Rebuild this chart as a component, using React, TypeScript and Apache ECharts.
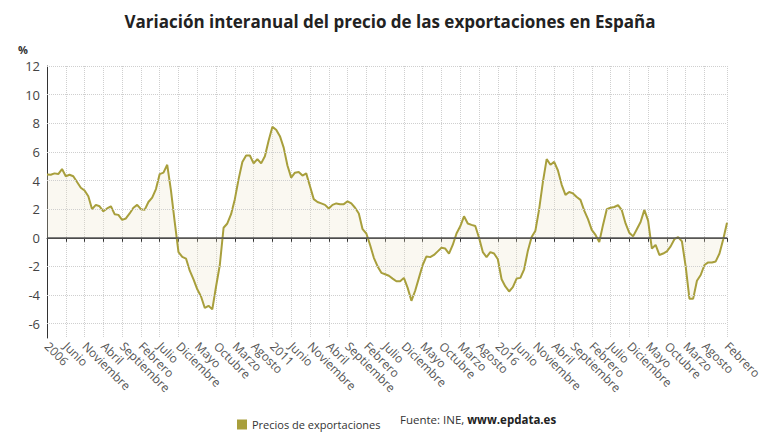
import React, { useEffect, useRef } from "react";
import * as echarts from "echarts";

const monthNames = ["Enero", "Febrero", "Marzo", "Abril", "Mayo", "Junio", "Julio", "Agosto", "Septiembre", "Octubre", "Noviembre", "Diciembre"];
const startYear = 2006;

const v2006 = [4.42, 4.4, 4.5, 4.45, 4.8, 4.3, 4.4, 4.3, 3.9, 3.5, 3.3, 2.9];
const v2007 = [2.0, 2.3, 2.2, 1.85, 2.05, 2.2, 1.65, 1.6, 1.25, 1.35, 1.7, 2.1];
const v2008 = [2.3, 2.0, 1.95, 2.5, 2.8, 3.4, 4.45, 4.55, 5.1, 3.3, 1.1, -1.0];
const v2009 = [-1.33, -1.45, -2.3, -2.9, -3.6, -4.1, -4.9, -4.75, -5.0, -3.4, -1.9, 0.7];
const v2010 = [1.0, 1.65, 2.7, 4.1, 5.3, 5.75, 5.75, 5.2, 5.5, 5.2, 5.7, 6.8];
const v2011 = [7.75, 7.55, 7.1, 6.3, 5.05, 4.2, 4.55, 4.6, 4.35, 4.5, 3.6, 2.7];
const v2012 = [2.5, 2.4, 2.3, 2.05, 2.3, 2.4, 2.35, 2.35, 2.55, 2.4, 2.1, 1.7];
const v2013 = [0.6, 0.3, -0.5, -1.4, -2.0, -2.45, -2.55, -2.65, -2.85, -3.04, -3.04, -2.8];
const v2014 = [-3.5, -4.4, -3.7, -2.8, -1.9, -1.3, -1.35, -1.2, -0.95, -0.7, -0.75, -1.1];
const v2015 = [-0.5, 0.3, 0.8, 1.5, 1.0, 0.9, 0.82, 0.0, -1.0, -1.35, -1.0, -1.1];
const v2016 = [-1.5, -2.9, -3.4, -3.75, -3.45, -2.85, -2.8, -2.2, -0.9, 0.05, 0.5, 2.0];
const v2017 = [3.9, 5.5, 5.1, 5.3, 4.7, 3.7, 3.0, 3.2, 3.1, 2.85, 2.65, 1.9];
const v2018 = [1.3, 0.55, 0.2, -0.3, 0.9, 2.0, 2.1, 2.15, 2.28, 1.93, 1.0, 0.35];
const v2019 = [0.1, 0.6, 1.1, 1.95, 1.2, -0.75, -0.5, -1.2, -1.1, -0.95, -0.6, -0.1];
const v2020 = [0.05, -0.25, -2.0, -4.25, -4.25, -3.0, -2.6, -1.9, -1.72, -1.72, -1.65, -1.1];
const v2021 = [-0.1, 1.05];

const values = [
  ...v2006, ...v2007, ...v2008, ...v2009, ...v2010, ...v2011, ...v2012, ...v2013,
  ...v2014, ...v2015, ...v2016, ...v2017, ...v2018, ...v2019, ...v2020, ...v2021,
];

const categories = values.map((_, i) => {
  const m = i % 12;
  const y = startYear + Math.floor(i / 12);
  return m === 0 ? String(y) : monthNames[m];
});

const yGridValues = [-6, -4, -2, 2, 4, 6, 8, 10, 12];

const lineColor = "#a89f3c";
const fontFamily = "'Open Sans', 'Noto Sans', sans-serif";

export default function App() {
  const ref = useRef<HTMLDivElement>(null);

  useEffect(() => {
    if (!ref.current) return;
    const chart = echarts.init(ref.current, undefined, { renderer: "svg" });
    const last = values.length - 1;
    const shown = (i: number) => (i % 5 === 0 && i <= last - 5) || i === last;

    chart.setOption({
      animation: false,
      backgroundColor: "#ffffff",
      textStyle: { fontFamily },
      title: {
        text: "Variación interanual del precio de las exportaciones en España",
        left: "center",
        top: 8,
        textStyle: { fontSize: 17, fontWeight: "bold", color: "#222", fontFamily },
      },
      grid: { left: 47, right: 53, top: 66, bottom: 102, containLabel: false },
      legend: {
        left: 232,
        top: 414,
        icon: "rect",
        itemWidth: 10,
        itemHeight: 10,
        itemGap: 6,
        textStyle: { fontSize: 11, color: "#333", fontFamily },
        data: ["Precios de exportaciones"],
      },
      graphic: [
        {
          type: "text",
          left: 18,
          top: 44,
          style: { text: "%", fontSize: 11, fontWeight: "bold", fill: "#333", fontFamily },
        },
        {
          type: "text",
          left: 400,
          top: 413,
          style: {
            text: "{a|Fuente: INE, }{b|www.epdata.es}",
            rich: {
              a: { fontSize: 11.5, fill: "#333", fontFamily },
              b: { fontSize: 11.5, fill: "#222", fontWeight: "bold", fontFamily },
            },
          },
        },
      ],
      xAxis: {
        type: "category",
        data: categories,
        boundaryGap: false,
        axisLine: { show: true, lineStyle: { color: "#333", width: 1 } },
        axisTick: { show: true, interval: (i: number) => shown(i), length: 4, lineStyle: { color: "#333" } },
        axisLabel: {
          interval: (i: number) => shown(i),
          rotate: -45,
          fontSize: 12,
          color: "#555",
          margin: 6,
          fontFamily,
        },
        splitLine: {
          show: true,
          interval: (i: number) => shown(i),
          lineStyle: { color: "#cfcfcf", type: "dotted", width: 1 },
        },
      },
      yAxis: {
        type: "value",
        min: -7,
        max: 12,
        interval: 1,
        axisLine: { show: true, lineStyle: { color: "#333", width: 1 } },
        axisTick: { show: false },
        splitLine: { show: false },
        axisLabel: {
          fontSize: 13,
          color: "#444",
          margin: 7,
          fontFamily,
          formatter: (v: number) => (Math.round(v) % 2 === 0 ? String(v) : ""),
        },
      },
      series: [
        {
          name: "Precios de exportaciones",
          type: "line",
          data: values,
          symbol: "none",
          itemStyle: { color: lineColor },
          lineStyle: { color: lineColor, width: 2 },
          areaStyle: { color: "rgba(236, 228, 196, 0.35)", origin: 0 },
          markLine: {
            silent: true,
            symbol: "none",
            label: { show: false },
            data: [
              ...yGridValues.map((v) => ({
                yAxis: v,
                lineStyle: { color: "#cfcfcf", type: "dotted", width: 1 },
              })),
              { yAxis: 0, lineStyle: { color: "#555", type: "solid", width: 1.5 } },
            ],
          },
          z: 3,
        },
      ],
    });

    return () => chart.dispose();
  }, []);

  return (
    <div
      ref={ref}
      style={{ position: "fixed", left: 0, top: 0, width: 780, height: 440, background: "#fff" }}
    />
  );
}
